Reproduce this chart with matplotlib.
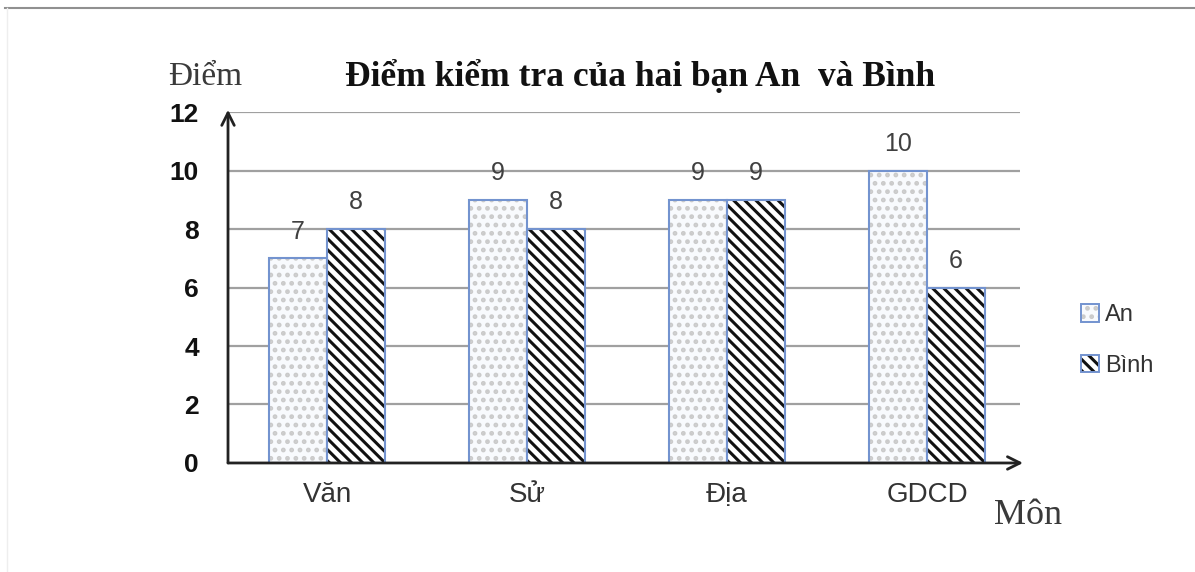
import matplotlib.pyplot as plt
import numpy as np
from matplotlib.patches import Patch
from matplotlib.lines import Line2D
from matplotlib.legend_handler import HandlerTuple

# data
mon = ['Văn', 'Sử', 'Địa', 'GDCD']
an = [7, 9, 9, 10]
binh = [8, 8, 9, 6]
yticks = [0, 2, 4, 6, 8, 10, 12]

plt.rcParams['hatch.linewidth'] = 2.2
sans = 'Liberation Sans'
serif = 'Liberation Serif'
edge = '#7393CF'
dot_col = '#CACACA'

fig = plt.figure(figsize=(11.95, 5.72), dpi=100)
ax = fig.add_axes([0.1908, 0.1906, 0.8536 - 0.1908, 0.804 - 0.1906])

x = np.arange(len(mon))
w = 0.29

# An: light fill with grey dots, Binh: black diagonal stripes
ax.bar(x - w / 2, an, w, color='#F8FAFD', edgecolor=dot_col, hatch='..', lw=0, zorder=2)
ax.bar(x - w / 2, an, w, fill=False, edgecolor=edge, lw=1.5, zorder=3)
ax.bar(x + w / 2, binh, w, color='white', edgecolor='#111111', hatch='\\\\\\', lw=0, zorder=2)
ax.bar(x + w / 2, binh, w, fill=False, edgecolor=edge, lw=1.5, zorder=3)

for i in range(len(mon)):
    ax.text(x[i] - w / 2, an[i] + 0.5, str(an[i]), ha='center', va='bottom',
            fontsize=18, family=sans, color='#404040')
    ax.text(x[i] + w / 2, binh[i] + 0.5, str(binh[i]), ha='center', va='bottom',
            fontsize=18, family=sans, color='#404040')

ax.set_xlim(-0.495, 3.465)
ax.set_ylim(0, 12)
for y in yticks[1:]:
    ax.axhline(y, color='#A0A0A0', lw=1.6, zorder=1)

for s in ax.spines.values():
    s.set_visible(False)
ax.set_xticks(x)
ax.set_xticklabels(mon, family=sans, fontsize=20, color='#333333')
ax.set_yticks(yticks)
ax.set_yticklabels([str(v) for v in yticks], family=sans, fontsize=19,
                   fontweight='bold', color='#111111')
ax.tick_params(length=0)
ax.tick_params(axis='x', pad=14)
ax.tick_params(axis='y', pad=21)

# axes with open arrow heads
arr = dict(arrowstyle='->,head_length=0.9,head_width=0.45', color='#222222', lw=2.0,
           shrinkA=0, shrinkB=0)
ax.annotate('', xy=(-0.495, 12.08), xytext=(-0.495, 0), arrowprops=arr,
            annotation_clip=False, zorder=5)
ax.annotate('', xy=(3.48, 0), xytext=(-0.495, 0), arrowprops=arr,
            annotation_clip=False, zorder=5)

fig.text(0.536, 0.866, 'Điểm kiểm tra của hai bạn An  và Bình', ha='center', va='center',
         family=serif, fontsize=25.5, fontweight='bold', color='#111111')
fig.text(0.141, 0.866, 'Điểm', ha='left', va='center', family=serif, fontsize=24,
         color='#3A3A3A')
fig.text(0.832, 0.098, 'Môn', ha='left', va='center', family=serif, fontsize=26,
         color='#3A3A3A')

h_an = (Patch(facecolor='#F8FAFD', edgecolor=dot_col, hatch='..', lw=0),
        Patch(fill=False, edgecolor=edge, lw=1.4))
h_binh = (Patch(facecolor='white', edgecolor='#111111', hatch='\\\\\\', lw=0),
          Patch(fill=False, edgecolor=edge, lw=1.4))
fig.legend([h_an, h_binh], ['An', 'Bình'], handler_map={tuple: HandlerTuple(ndivide=1)},
           loc='center left', bbox_to_anchor=(0.887, 0.405), frameon=False,
           prop={'family': sans, 'size': 17}, handlelength=0.75, handleheight=0.75,
           handletextpad=0.25, labelspacing=1.2, labelcolor='#333333')

# frame lines of the page
fig.add_artist(Line2D([0.004, 1], [1 - 8 / 572, 1 - 8 / 572], color='#909090', lw=1.5))
fig.add_artist(Line2D([0.006, 0.006], [0, 1 - 8 / 572], color='#EEEEEE', lw=1.0))

fig.savefig('out.png', dpi=100)
